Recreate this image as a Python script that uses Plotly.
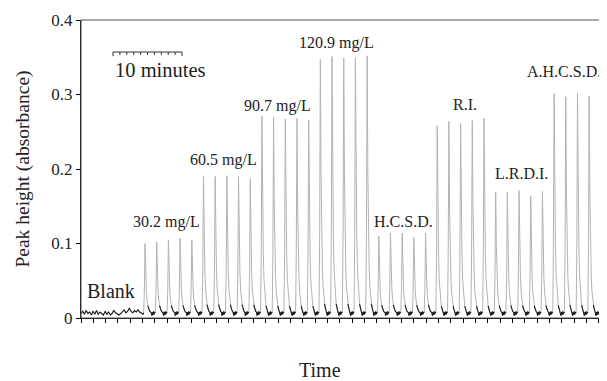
import plotly.graph_objects as go

# ---------------- data ----------------
group_labels = ["30.2 mg/L", "60.5 mg/L", "90.7 mg/L", "120.9 mg/L",
                "H.C.S.D.", "R.I.", "L.R.D.I.", "A.H.C.S.D."]

# apex times of the injections (minutes)
peak_times = [9.28, 10.97, 12.67, 14.36, 16.06,
              17.75, 19.44, 21.14, 22.83, 24.53,
              26.22, 27.91, 29.61, 31.30, 33.00,
              34.69, 36.38, 38.08, 39.77, 41.47,
              43.16, 44.85, 46.55, 48.24, 49.94,
              51.63, 53.32, 55.02, 56.71, 58.41,
              60.10, 61.79, 63.49, 65.18, 66.88,
              68.57, 70.26, 71.96, 73.65, 75.35]

# apex heights (absorbance)
peak_heights = [0.100, 0.102, 0.105, 0.107, 0.105,
                0.190, 0.190, 0.191, 0.190, 0.187,
                0.271, 0.270, 0.267, 0.268, 0.266,
                0.347, 0.351, 0.349, 0.349, 0.352,
                0.110, 0.114, 0.114, 0.108, 0.114,
                0.258, 0.264, 0.261, 0.265, 0.268,
                0.169, 0.169, 0.171, 0.164, 0.170,
                0.301, 0.297, 0.302, 0.298, 0.297]

# blank (baseline) readings, every 0.25 min from t = 0
blank_y = [0.006, 0.009, 0.005, 0.010, 0.006, 0.008, 0.004, 0.009, 0.005,
           0.010, 0.005, 0.008, 0.006, 0.004, 0.009, 0.005, 0.008, 0.004,
           0.006, 0.010, 0.007, 0.005, 0.004, 0.006, 0.009, 0.011, 0.007,
           0.009, 0.013, 0.009, 0.007, 0.010, 0.008, 0.011, 0.008, 0.007,
           0.005]
blank_step = 0.25

# peak profile template (time from apex in min, fraction of peak height)
shape_dt = [-0.2, -0.1, 0.0, 0.1, 0.2, 0.3, 0.4, 0.5, 0.6, 0.7, 0.8, 0.9]
shape_rel = [0.0, 0.30, 1.0, 0.55, 0.30, 0.17, 0.10, 0.06, 0.035, 0.02, 0.01, 0.004]
# baseline wiggle between injections (time from apex, absorbance)
gap_dt = [1.0, 1.08, 1.16, 1.24, 1.32, 1.40]
gap_y = [0.003, 0.008, 0.004, 0.009, 0.005, 0.008]
base_level = 0.007

# scale bar (minutes) and its position
scale_start = 4.64
scale_len = 10
scale_y = 0.357

# ---------------- build the trace ----------------
xs, ys = [], []
for i, v in enumerate(blank_y):
    t = i * blank_step
    if t < peak_times[0] - 0.2:
        xs.append(t)
        ys.append(v)
for k, (tp, h) in enumerate(zip(peak_times, peak_heights)):
    for dt, r in zip(shape_dt, shape_rel):
        xs.append(tp + dt)
        ys.append(base_level + (h - base_level) * r)
    nxt = peak_times[k + 1] - 0.2 if k + 1 < len(peak_times) else 1e9
    for dt, v in zip(gap_dt, gap_y):
        if tp + dt < nxt:
            xs.append(tp + dt)
            ys.append(v)

thr = 0.02
ys_low = [v if v <= thr else None for v in ys]

fig = go.Figure()
fig.add_trace(go.Scatter(x=xs, y=ys, mode="lines",
                         line=dict(color="#b3b3b3", width=1), hoverinfo="skip"))
fig.add_trace(go.Scatter(x=xs, y=ys_low, mode="lines", connectgaps=False,
                         line=dict(color="#1e1e1e", width=1.1), hoverinfo="skip"))

# scale bar with minute ticks
sbx, sby = [scale_start, scale_start + scale_len], [scale_y, scale_y]
sbx.append(None); sby.append(None)
for m in range(scale_len + 1):
    ln = 0.0055 if m in (0, scale_len) else 0.004
    sbx += [scale_start + m, scale_start + m, None]
    sby += [scale_y, scale_y - ln, None]
fig.add_trace(go.Scatter(x=sbx, y=sby, mode="lines",
                         line=dict(color="#333333", width=1), hoverinfo="skip"))

# ---------------- annotations ----------------
label_pos = [(12.32, 0.1289), (20.72, 0.2121), (28.55, 0.2846), (36.96, 0.3691),
             (46.81, 0.1302), (55.65, 0.2872), (63.91, 0.1933), (70.05, 0.3315)]
ann = []
for txt, (x, y) in zip(group_labels, label_pos):
    ann.append(dict(x=x, y=y, xref="x", yref="y", text=txt, showarrow=False,
                    xanchor="center", yanchor="middle",
                    font=dict(size=16, color="#222")))
ann.append(dict(x=4.35, y=0.0362, xref="x", yref="y", text="Blank", showarrow=False,
                xanchor="center", yanchor="middle", font=dict(size=20, color="#222")))
ann.append(dict(x=11.45, y=0.3329, xref="x", yref="y", text="10 minutes", showarrow=False,
                xanchor="center", yanchor="middle", font=dict(size=20.5, color="#222")))
ann.append(dict(x=0.457, y=-0.1745, xref="paper", yref="paper", text="Time", showarrow=False,
                xanchor="center", yanchor="middle", font=dict(size=20, color="#222")))

# the page body adds an 8 px offset, so the figure is 8 px smaller
fig.update_layout(
    width=599, height=373,
    margin=dict(l=73, r=3, t=12, b=63, autoexpand=False),
    paper_bgcolor="white", plot_bgcolor="white",
    font=dict(family="Liberation Serif", color="#222"),
    showlegend=False,
    annotations=ann,
    shapes=[dict(type="rect", xref="paper", yref="paper", x0=0, x1=1, y0=0, y1=1,
                 line=dict(color="#555", width=1), layer="above")],
    xaxis=dict(range=[0, 75.8], showline=True, linecolor="black", linewidth=1,
               ticks="outside", ticklen=4, tickcolor="black", tick0=0, dtick=1.787,
               showticklabels=False, showgrid=False, zeroline=False, automargin=False),
    yaxis=dict(range=[0, 0.4], tickvals=[0, 0.1, 0.2, 0.3, 0.4],
               ticktext=["0", "0.1", "0.2", "0.3", "0.4"],
               showline=True, linecolor="black", linewidth=1,
               ticks="outside", ticklen=4, tickcolor="black", automargin=False,
               tickfont=dict(size=17), showgrid=False, zeroline=False,
               title=dict(text="Peak height (absorbance)", font=dict(size=19.5), standoff=16)),
)

fig.write_html("out.html")
